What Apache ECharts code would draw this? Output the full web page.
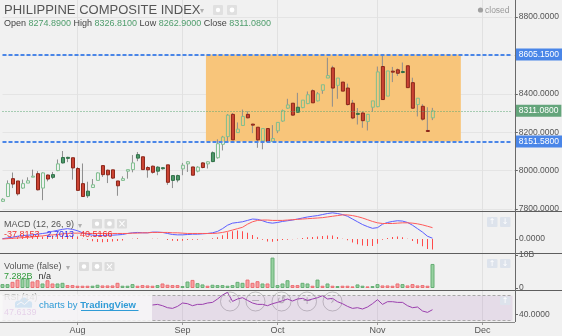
<!DOCTYPE html>
<html><head><meta charset="utf-8">
<script src="https://cdn.jsdelivr.net/npm/echarts@6/dist/echarts.min.js"></script>
<style>html,body{margin:0;padding:0;background:#f1f1f1;overflow:hidden}#c{width:562px;height:336px}</style>
</head><body><div id="c"></div>
<script>
// ---------------- DATA ----------------
const slotCount = 103; // trading-day slots shown on the time axis (incl. empty future space)
const monthIdx = [15, 36, 55, 75, 96];
const monthLabels = ['Aug', 'Sep', 'Oct', 'Nov', 'Dec'];

const opens  = [7840,7865,7958,7946,7909,7935,7969,7984,7909,7977,
                7979,8000,8068,8069,8067,8011,7932,7893,7912,7949,
                8026,8002,8004,7946,7949,7997,8005,8083,8072,8016,
                8023,8018,8015,8030,7974,7974,8009,8035,8019,7997,
                8040,8035,8093,8067,8137,8177,8293,8198,8235,8293,
                8242,8226,8154,8219,8151,8207,8258,8325,8351,8330,
                8328,8349,8416,8363,8418,8482,8535,8444,8461,8430,
                8351,8298,8300,8256,8330,8333,8542,8388,8518,8525,
                8516,8546,8458,8344,8335,8209,8274.89];
const closes = [7851,7932,7930,7879,7932,7947,7971,7900,7988,7956,
                7965,8035,8040,8068,8014,7897,7865,7869,7926,7988,
                7979,7978,7961,7921,7958,8005,8040,8065,8005,8004,
                7991,7997,8014,7939,7949,7951,8028,8046,7976,8018,
                8016,8046,8047,8140,8175,8289,8160,8216,8282,8275,
                8238,8160,8219,8151,8167,8251,8312,8342,8289,8304,
                8367,8395,8353,8400,8447,8495,8430,8482,8414,8344,
                8274,8296,8260,8293,8363,8514,8370,8519,8516,8507,
                8514,8432,8325,8377,8268,8207,8311.08];
const highs  = [7856,7949,7990,7946,7953,7965,8005,7997,7991,7979,
                7993,8058,8102,8072,8067,8018,8037,7942,7956,7991,
                8026,8005,8005,7946,7970,8005,8081,8097,8072,8023,
                8026,8023,8018,8030,7974,7979,8040,8049,8019,8023,
                8044,8049,8100,8163,8181,8295,8300,8251,8318,8309,
                8244,8226,8219,8219,8237,8251,8318,8374,8351,8405,
                8367,8412,8423,8409,8447,8588,8546,8482,8461,8453,
                8368,8326,8307,8293,8363,8542,8602,8519,8540,8532,
                8563,8546,8484,8377,8346,8330,8326.81];
const lows   = [7837,7862,7909,7870,7905,7935,7967,7897,7846,7944,
                7956,7997,8037,8044,7953,7897,7865,7858,7912,7949,
                7967,7935,7956,7869,7947,7958,7991,8049,8005,7963,
                7984,7976,8005,7926,7909,7939,7976,7993,7976,7991,
                8012,8011,8044,8062,8105,8154,8160,8198,8235,8272,
                8195,8119,8111,8151,8151,8195,8254,8321,8286,8300,
                8325,8346,8353,8360,8400,8482,8333,8374,8414,8339,
                8268,8240,8223,8209,8307,8330,8370,8388,8461,8493,
                8507,8432,8321,8282,8260,8204,8262.9];

const volumes = [1.18,1.18,1.86,2.55,2.84,2.84,1.96,2.35,1.37,2.35,
                 1.37,1.37,1.57,0.88,0.88,0.69,0.69,0.69,0.69,0.98,
                 0.78,0.78,0.78,1.57,0.69,0.69,1.18,0.69,0.88,0.78,
                 0.69,0.88,1.37,0.98,0.88,0.88,0.59,1.96,2.45,1.47,
                 1.08,0.69,0.98,0.88,0.88,0.69,0.88,1.86,1.57,2.55,
                 1.57,2.06,1.37,1.37,9.2,0.88,1.37,2.35,0.88,0.88,
                 1.57,1.37,0.69,2.55,0.69,1.37,0.69,0.59,0.69,0.69,
                 0.49,1.08,0.69,0.49,0.59,1.18,0.78,0.78,0.69,1.37,
                 1.18,0.78,1.18,0.78,0.88,0.69,7.282];
const volUp = [1,1,0,0,1,1,0,0,1,0, 0,1,1,0,0,0,0,0,1,1, 0,0,0,0,1,1,1,0,0,0,
               0,1,0,0,0,0,1,1,0,1, 1,0,1,1,1,1,1,1,1,0, 0,0,1,0,1,1,1,1,0,0,
               1,1,0,1,0,1,0,1,0,0, 0,1,1,0,1,1,0,0,0,0, 1,0,0,0,0,0,1];

// MACD (12, 26, 9)
const macdLine = [1.2,3.7,6.2,9.8,12.3,13.5,14.8,17.2,19.7,22.1,27.1,30.8,34.4,36.9,34.4,29.5,
                  22.1,17.2,13.5,12.3,12.3,13.5,13.5,14.8,16,
                  19.7,22.1,23.4,22.1,22.1,24.6,24.6,23.4,19.7,16,14.8,14.8,16,17.2,17.2,18.5,19.7,22.1,27.1,36.9,49.2,56.6,59,61.5,
                  66.4,71.3,70.1,65.2,59,56.6,59,62.7,65.2,67.7,71.3,75,78.7,81.2,83.6,87.3,91,93.5,
                  91,87.3,81.2,71.3,61.5,51.7,44.3,38.1,40.6,52.9,59,62.7,65.2,64,59,49.2,36.9,24.6,9.8,2.7013];
const signalLine = [0,1.2,2.5,3.7,4.9,6.2,7.4,9.8,11.1,13.5,14.8,16,18.5,19.7,20.9,20.9,
                    20.9,19.7,19.7,19.7,19.7,19.7,19.7,19.7,19.7,
                    19.7,20.9,20.9,22.1,22.1,23.4,23.4,23.4,23.4,22.1,22.1,20.9,19.7,19.7,19.7,19.7,19.7,19.7,20.9,23.4,27.1,32,36.9,41.8,
                    52.9,61.5,66.4,67.7,67.7,66.4,66.4,66.4,67.7,68.9,70.1,71.3,72.6,73.8,75,76.3,78.7,81.2,
                    83.6,86.1,86.1,83.6,80,75,68.9,62.7,57.8,55.4,55.4,55.4,56.6,57.8,57.8,56.6,54.1,50.4,45.5,40.5166];
const macdHist = [1.2,2.5,3.7,6.1,7.4,7.3,7.4,7.4,8.6,8.6,12.3,14.8,15.9,17.2,13.5,8.6,
                  1.2,-4,-8,-11,-12,-11,-9,-7,-5,
                  0,1.2,2.5,0,0,1.2,1.2,0,-3.7,-6.1,-7.3,-6.1,-3.7,-2.5,-2.5,-1.2,0,2.4,6.2,13.5,24,28,30,28,
                  22,14,6,-2.5,-8.6,-9.8,-7.4,-3.7,-2.5,-1.2,1.2,3.7,6.1,7.4,8.6,11,12.3,12.3,
                  7.4,1.2,-4.9,-12.3,-18.5,-23.3,-24.6,-24.6,-17.2,-2.5,3.6,7.3,8.6,6.2,1.2,-7.4,-17.2,-25.8,-35.7,-37.8153];

// RSI (14) – visible from this slot on (earlier part hidden under the logo box)
const rsiStart = 30;
const rsiValues = [55.1,56.1,54,50.8,49.7,52.9,58.3,57.2,54,56.1,56.1,58.3,59.3,64.7,71.1,75.3,
                   60.9,64.7,66.8,62.5,58.3,56.1,56.1,54,57.2,59.3,62,64.7,61.5,64.7,65.7,62.5,
                   64.7,66.8,70,64.7,65.7,60.4,57.2,52.9,49.7,50.8,48.7,51.9,57.2,63.6,56.1,60.4,
                   60.4,59.3,59.3,54,50.8,51.9,45.5,43.3,47.6139];

// Drawn levels
const zoneStart = 40.7, zoneEnd = 91.7, zoneTop = 8605.15, zoneBottom = 8151.58;
const lastClose = 8311.08;

// ---------------- BUILD ----------------
const categories = Array.from({length: slotCount}, (_, i) => String(i));
const candleData = opens.map((o, i) => [i, o, closes[i], lows[i], highs[i]]);
const rsiData = categories.map((_, i) => (i >= rsiStart && i - rsiStart < rsiValues.length) ? rsiValues[i - rsiStart] : null);
const FONT = 'Liberation Sans, Arial, sans-serif';
const isMonth = (idx) => monthIdx.indexOf(idx) >= 0;
const L = 2.5, R = 49.5;

function renderCandle(params, api) {
  const i = api.value(0), o = api.value(1), c = api.value(2), lo = api.value(3), hi = api.value(4);
  const pO = api.coord([i, o]), pC = api.coord([i, c]), pH = api.coord([i, hi]), pL = api.coord([i, lo]);
  const x = pO[0];
  const prev = i > 0 ? closes[i - 1] : o;
  const up = c >= prev, hollow = c > o;
  let top = Math.min(pO[1], pC[1]), bot = Math.max(pO[1], pC[1]);
  if (bot - top < 1) bot = top + 1;
  let fill, stroke;
  if (hollow) { fill = 'rgba(0,0,0,0)'; stroke = up ? '#7fbf8f' : '#ee8a86'; }
  else { fill = up ? '#4f9a6b' : '#cc4434'; stroke = up ? '#2f6f47' : '#8a2519'; }
  return { type: 'group', children: [
    { type: 'line', shape: { x1: x, y1: pH[1], x2: x, y2: top }, style: { stroke: '#8d8d8d', lineWidth: 1 } },
    { type: 'line', shape: { x1: x, y1: bot, x2: x, y2: pL[1] }, style: { stroke: '#8d8d8d', lineWidth: 1 } },
    { type: 'rect', shape: { x: x - 1, y: top, width: 3, height: bot - top }, style: { fill: fill, stroke: stroke, lineWidth: 1 } }
  ]};
}
function renderZone(params, api) {
  const s = api.value(0), e = api.value(1), t = api.value(2), b = api.value(3);
  const bw = api.size([1, 0])[0];
  const p1 = api.coord([Math.floor(s), t]), p2 = api.coord([Math.floor(e), b]);
  const x1 = p1[0] + (s - Math.floor(s)) * bw, x2 = p2[0] + (e - Math.floor(e)) * bw;
  return { type: 'rect', shape: { x: x1, y: p1[1], width: x2 - x1, height: p2[1] - p1[1] },
           style: { fill: '#f8c57a' } };
}

function xAx(grid, extra) {
  return Object.assign({ type: 'category', gridIndex: grid, data: categories, boundaryGap: false,
    axisLine: { show: false }, axisTick: { show: false }, axisLabel: { show: false }, splitLine: { show: false } }, extra || {});
}
function priceLabel(text, bg) {
  return { show: true, position: 'end', distance: 3.5, formatter: text, backgroundColor: bg, color: '#fff',
           fontSize: 8.5, fontFamily: FONT, padding: [2, 3, 1, 3] };
}
function txt(x, y, text, size, color, extra) {
  return Object.assign({ type: 'text', x: x, y: y, z: 100,
    style: { text: text, fontSize: size, fontFamily: FONT, fill: color, verticalAlign: 'middle' } }, extra || {});
}
function box(x, y, w, h, color, z) {
  return { type: 'rect', z: z || 100, shape: { x: x, y: y, width: w, height: h, r: 1 }, style: { fill: color } };
}
function hline(y, x1, x2, color) {
  return { type: 'line', z: 90, shape: { x1: x1, y1: y, x2: x2, y2: y }, style: { stroke: color, lineWidth: 1 } };
}
function glyph(x, y, t, size, color, z) {
  return { type: 'text', x: x, y: y, z: z || 101, style: { text: t, fontSize: size, fontFamily: 'DejaVu Sans', fill: color, align: 'center', verticalAlign: 'middle' } };
}

const option = {
  animation: false,
  backgroundColor: '#f1f1f1',
  grid: [
    { left: L, right: R, top: 17, height: 192 },      // 0 price
    { left: L, right: R, top: 211, height: 42 },      // 1 MACD
    { left: L, right: R, top: 253, height: 35 },      // 2 volume
    { left: L, right: R, top: 289.45, height: 37.5 }, // 3 RSI
    { left: L, right: R, top: 300, height: 22 },      // 4 time axis
    { left: L, right: R, top: 0, height: 322 }        // 5 vertical month grid
  ],
  xAxis: [
    xAx(0), xAx(1), xAx(2), xAx(3),
    xAx(4, { axisLabel: { show: true, interval: (idx) => isMonth(idx), margin: 4,
               formatter: (v, idx) => monthLabels[monthIdx.indexOf(Number(v))] || '',
               color: '#555', fontSize: 9, fontFamily: FONT },
             axisTick: { show: true, interval: (idx) => isMonth(idx), length: 3, lineStyle: { color: '#999' } } }),
    xAx(5, { splitLine: { show: true, interval: (idx) => isMonth(idx), lineStyle: { color: '#e1e1e1', width: 1 } } })
  ],
  yAxis: [
    { type: 'value', gridIndex: 0, position: 'right', offset: 2.5, min: 7800, max: 8800, interval: 200,
      axisLine: { show: false }, axisTick: { show: true, length: 3, lineStyle: { color: '#666' } },
      axisLabel: { margin: 4, formatter: (v) => v.toFixed(4), color: '#555', fontSize: 8.5, fontFamily: FONT },
      splitLine: { show: true, lineStyle: { color: '#e4e4e4' } } },
    { type: 'value', gridIndex: 1, position: 'right', offset: 2.5, min: -50, max: 100,
      axisLine: { show: false }, axisTick: { show: true, length: 3, customValues: [0], lineStyle: { color: '#666' } },
      axisLabel: { margin: 4, customValues: [0], formatter: (v) => v.toFixed(4), color: '#555', fontSize: 8.5, fontFamily: FONT },
      splitLine: { show: false } },
    { type: 'value', gridIndex: 2, position: 'right', offset: 2.5, min: 0, max: 10.6,
      axisLine: { show: false }, axisTick: { show: true, length: 3, customValues: [0, 10], lineStyle: { color: '#666' } },
      axisLabel: { margin: 4, customValues: [0, 10], formatter: (v) => v === 0 ? '0' : v + 'B', color: '#555', fontSize: 8.5, fontFamily: FONT },
      splitLine: { show: false } },
    { type: 'value', gridIndex: 3, position: 'right', offset: 2.5, min: 20, max: 80,
      axisLine: { show: false }, axisTick: { show: true, length: 3, customValues: [40], lineStyle: { color: '#666' } },
      axisLabel: { margin: 4, customValues: [40], formatter: (v) => v.toFixed(4), color: '#555', fontSize: 8.5, fontFamily: FONT },
      splitLine: { show: false } },
    { type: 'value', gridIndex: 4, show: false },
    { type: 'value', gridIndex: 5, show: false }
  ],
  series: [
    { type: 'custom', name: 'zone', xAxisIndex: 0, yAxisIndex: 0, z: 1, silent: true,
      data: [[zoneStart, zoneEnd, zoneTop, zoneBottom]], encode: { x: [0, 1], y: [2, 3] }, renderItem: renderZone },
    { type: 'custom', name: 'PSEi', xAxisIndex: 0, yAxisIndex: 0, z: 3,
      data: candleData, encode: { x: 0, y: [1, 2, 3, 4] }, renderItem: renderCandle,
      markLine: { silent: true, symbol: ['none', 'none'], z: 4,
        data: [
          { yAxis: zoneTop, lineStyle: { color: '#4a86e8', width: 2, type: [4, 2] }, label: priceLabel(zoneTop.toFixed(4), '#4a86e8') },
          { yAxis: zoneBottom, lineStyle: { color: '#4a86e8', width: 2, type: [4, 2] }, label: priceLabel(zoneBottom.toFixed(4), '#4a86e8') },
          { yAxis: lastClose, lineStyle: { color: '#5aa672', width: 1, type: [1, 2] }, label: priceLabel(lastClose.toFixed(4), '#64a57b') }
        ] } },
    { type: 'bar', name: 'hist', xAxisIndex: 1, yAxisIndex: 1, data: macdHist, barWidth: 1,
      itemStyle: { color: '#ff4a4a' }, z: 2 },
    { type: 'line', name: 'MACD', xAxisIndex: 1, yAxisIndex: 1, data: macdLine, showSymbol: false,
      lineStyle: { color: '#5a5cff', width: 1 }, z: 3 },
    { type: 'line', name: 'Signal', xAxisIndex: 1, yAxisIndex: 1, data: signalLine, showSymbol: false,
      lineStyle: { color: '#ff5a5a', width: 1 }, z: 3 },
    { type: 'bar', name: 'Volume', xAxisIndex: 2, yAxisIndex: 2, barWidth: 4,
      data: volumes.map((v, i) => ({ value: v, itemStyle: volUp[i]
        ? { color: '#97d1a0', borderColor: '#66ae74', borderWidth: 1 }
        : { color: '#f7a0a2', borderColor: '#ec6f73', borderWidth: 1 } })) },
    { type: 'line', name: 'RSI', xAxisIndex: 3, yAxisIndex: 3, data: rsiData, showSymbol: false, connectNulls: false,
      lineStyle: { color: '#9b3fae', width: 1 }, z: 3,
      markArea: { silent: true, itemStyle: { color: 'rgba(150,70,170,0.12)' }, data: [[{ yAxis: 30 }, { yAxis: 70 }]] },
      markLine: { silent: true, symbol: ['none', 'none'], label: { show: false },
        lineStyle: { color: '#a9a9a9', type: [3, 2], width: 1 }, data: [{ yAxis: 30 }, { yAxis: 70 }] } }
  ],
  graphic: { elements: [
    // pane frames
    hline(211.5, 0, 562, '#5e5e5e'), hline(253.5, 0, 562, '#5e5e5e'), hline(290.5, 0, 562, '#5e5e5e'),
    hline(322.5, 0, 515, '#8a8a8a'),
    { type: 'line', z: 90, shape: { x1: 515.5, y1: 0, x2: 515.5, y2: 322 }, style: { stroke: '#6a6a6a', lineWidth: 1 } },
    // header
    txt(4, 10.5, 'PHILIPPINE COMPOSITE INDEX', 13, '#555'),
    glyph(202, 11, '▾', 8, '#b0b0b0', 100),
    box(213, 5, 10, 10, '#e0e0e0'), box(227, 5, 10, 10, '#e0e0e0'),
    { type: 'circle', z: 101, shape: { cx: 218, cy: 10, r: 2.2 }, style: { fill: '#fff' } },
    { type: 'circle', z: 101, shape: { cx: 232, cy: 10, r: 2.4 }, style: { fill: '#fff' } },
    { type: 'text', x: 4, y: 23.5, z: 100, style: { verticalAlign: 'middle', fontFamily: FONT, fontSize: 9,
      text: '{l|Open} {v|8274.8900} {l|High} {v|8326.8100} {l|Low} {v|8262.9000} {l|Close} {v|8311.0800}',
      rich: { l: { fill: '#444', fontSize: 9, fontFamily: FONT }, v: { fill: '#4f9d6c', fontSize: 9, fontFamily: FONT } } } },
    { type: 'circle', z: 100, shape: { cx: 480.5, cy: 10, r: 2.6 }, style: { fill: '#a0a0a0' } },
    txt(485, 10.5, 'closed', 8.5, '#999'),
    // MACD legend
    txt(4, 225, 'MACD (12, 26, 9)', 9, '#555'),
    glyph(80, 225.5, '▾', 8, '#b0b0b0', 100),
    box(92, 219, 10, 9.5, '#dcdcdc'), box(104.5, 219, 10, 9.5, '#dcdcdc'), box(117, 219, 10, 9.5, '#dcdcdc'),
    { type: 'circle', z: 101, shape: { cx: 97, cy: 223.7, r: 2.2 }, style: { fill: '#fff' } },
    { type: 'circle', z: 101, shape: { cx: 109.5, cy: 223.7, r: 2.4 }, style: { fill: '#fff' } },
    glyph(122, 224, '×', 10, '#fff'),
    txt(4, 234.5, '-37.8153', 9, '#f03030'), txt(46.5, 234.5, '2.7013', 9, '#3030f0'), txt(80, 234.5, '40.5166', 9, '#f03030'),
    // volume legend
    txt(4, 267, 'Volume (false)', 9, '#555'),
    glyph(68, 267.5, '▾', 8, '#b0b0b0', 100),
    box(79, 262, 10, 9, '#dcdcdc'), box(92, 262, 10, 9, '#dcdcdc'), box(104.5, 262, 10, 9, '#dcdcdc'),
    { type: 'circle', z: 101, shape: { cx: 84, cy: 266.5, r: 2.2 }, style: { fill: '#fff' } },
    { type: 'circle', z: 101, shape: { cx: 97, cy: 266.5, r: 2.4 }, style: { fill: '#fff' } },
    glyph(109.5, 267, '×', 10, '#fff'),
    txt(4, 277, '7.282B', 9, '#2f9a3a'), txt(38.5, 277, 'n/a', 9, '#333'),
    // up/down pane buttons
    box(487, 217, 10.5, 10, '#dde3ec'), box(500, 217, 10.5, 10, '#dde3ec'),
    box(487, 259, 10.5, 9, '#dde3ec'), box(500, 259, 10.5, 9, '#dde3ec'),
    box(500, 296.5, 10.5, 8.5, '#dde3ec'),
    glyph(492.2, 222.3, '↑', 8, '#fff'), glyph(505.2, 222.3, '↓', 8, '#fff'),
    glyph(492.2, 263.6, '↑', 8, '#fff'), glyph(505.2, 263.6, '↓', 8, '#fff'),
    glyph(505.2, 300.8, '↑', 8, '#fff'),
    // RSI legend (under the logo box)
    txt(4, 298, 'RSI (14)', 9, '#888', { z: 95 }), txt(4, 313, '47.6139', 9, '#9b3fae', { z: 95 }),
    // navigation buttons (faint)
    ...[230, 255.5, 281.5, 307, 332.5].map((cx, k) => ({ type: 'group', z: 96, children: [
      { type: 'circle', shape: { cx: cx, cy: 301.5, r: 9.5 }, style: { fill: 'rgba(255,255,255,0.15)', stroke: 'rgba(130,130,130,0.45)', lineWidth: 1 } },
      { type: 'text', x: cx, y: 301.5, style: { text: ['‹', '−', '↺', '+', '›'][k], fontSize: 11, fontFamily: 'DejaVu Sans',
        fill: 'rgba(130,130,130,0.55)', align: 'center', verticalAlign: 'middle' } } ] })),
    // TradingView logo box
    { type: 'rect', z: 97, shape: { x: 0, y: 294.5, width: 152, height: 26.5 }, style: { fill: 'rgba(250,250,250,0.78)' } },
    { type: 'group', z: 98, children: [
      { type: 'circle', shape: { cx: 18.5, cy: 304, r: 3.6 }, style: { fill: '#3d9fdc' } },
      { type: 'circle', shape: { cx: 24, cy: 302, r: 4.4 }, style: { fill: '#3d9fdc' } },
      { type: 'circle', shape: { cx: 29, cy: 304.3, r: 3.2 }, style: { fill: '#3d9fdc' } },
      { type: 'rect', shape: { x: 15, y: 304, width: 17, height: 3.6 }, style: { fill: '#3d9fdc' } },
      { type: 'polyline', shape: { points: [[17, 305], [21, 302], [24.5, 304.5], [29, 300.5]] }, style: { stroke: '#fff', lineWidth: 1, fill: null } }
    ] },
    { type: 'text', x: 39, y: 305.5, z: 99, style: { verticalAlign: 'middle', fontFamily: FONT, fontSize: 9.5,
      text: '{a|charts by }{b|TradingView}',
      rich: { a: { fill: '#2f9bd6', fontSize: 9.5, fontFamily: FONT }, b: { fill: '#2f9bd6', fontSize: 9.5, fontWeight: 'bold', fontFamily: FONT } } } },
    { type: 'line', z: 99, shape: { x1: 81, y1: 310.5, x2: 138.5, y2: 310.5 }, style: { stroke: '#2f9bd6', lineWidth: 1 } }
  ] }
};

const chart = echarts.init(document.getElementById('c'));
chart.setOption(option);
</script>
</body></html>
